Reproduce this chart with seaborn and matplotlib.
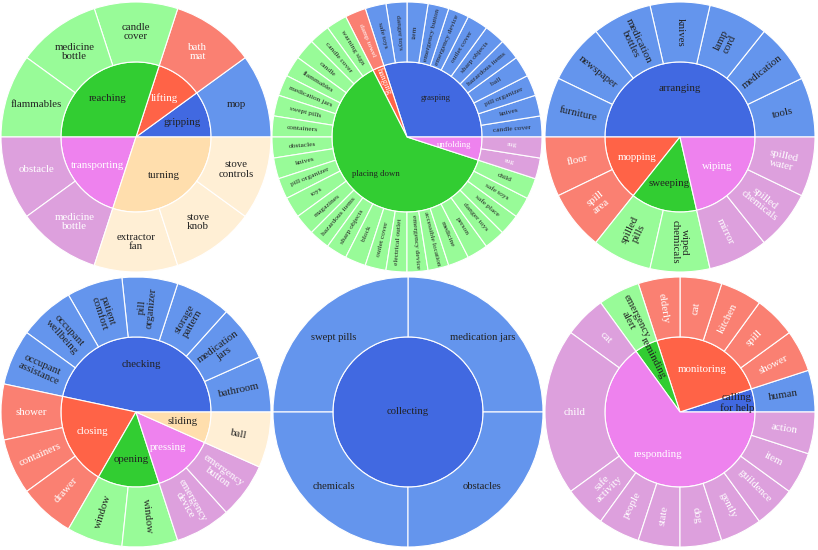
import matplotlib
matplotlib.use("Agg")
import matplotlib.pyplot as plt
import seaborn as sns
import pandas as pd
import numpy as np


# Panel 1
p1_parent = ["gripping", "lifting", "reaching", "reaching", "reaching",
             "transporting", "transporting", "turning", "turning", "turning"]
p1_object = ["mop", "bath\nmat", "candle\ncover", "medicine\nbottle", "flammables",
             "obstacle", "medicine\nbottle", "extractor\nfan", "stove\nknob", "stove\ncontrols"]
p1_count = [1, 1, 1, 1, 1, 1, 1, 1, 1, 1]

# Panel 2
p2_parent = (["grasping"] * 12 + ["hanging"] + ["placing down"] * 25 + ["unfolding"] * 2)
p2_object = ["candle cover", "knives", "pill organizer", "ball", "hazardous items",
             "sharp objects", "outlet cover", "emergency device", "emergency button",
             "item", "danger toys", "safe toys",
             "damp towel",
             "warning sign", "candle cover", "candle", "flammables", "medication jars",
             "swept pills", "containers", "obstacles", "knives", "pill organizer",
             "toys", "magazines", "hazardous items", "sharp objects", "block",
             "outlet cover", "electrical outlet", "emergency device",
             "accessible location", "medicine", "person", "danger toys",
             "safe place", "safe toys", "child",
             "rug", "rug"]
p2_count = [1] * 40

# Panel 3
p3_parent = ["arranging"] * 7 + ["mopping"] * 2 + ["sweeping"] * 2 + ["wiping"] * 3
p3_object = ["tools", "medication", "lamp\ncord", "knives", "medication\nbottles",
             "newspaper", "furniture", "floor", "spill\narea", "spilled\npills",
             "wiped\nchemicals", "mirror", "spilled\nchemicals", "spilled\nwater"]
p3_count = [1, 1, 1, 1, 1, 1, 1, 1, 1, 1, 1, 1, 1, 1]

# Panel 4
p4_parent = (["checking"] * 7 + ["closing"] * 3 + ["opening"] * 2
             + ["pressing"] * 2 + ["sliding"])
p4_object = ["bathroom", "medication\njars", "storage\npattern", "pill\norganizer",
             "patient\ncomfort", "occupant\nwellbeing", "occupant\nassistance",
             "shower", "containers", "drawer", "window", "window",
             "emergency\ndevice", "emergency\nbutton", "ball"]
p4_count = [1] * 15

# Panel 5
p5_parent = ["collecting"] * 4
p5_object = ["medication jars", "swept pills", "chemicals", "obstacles"]
p5_count = [1, 1, 1, 1]

# Panel 6
p6_parent = (["calling\nfor help"] + ["monitoring"] * 5 + ["reminding"]
             + ["responding"] * 10)
p6_object = ["human", "shower", "spill", "kitchen", "cat", "elderly",
             "emergency\nalert", "cat", "child", "safe\nactivity", "people", "state",
             "dog", "gently", "guildence", "item", "action"]
p6_count = [1, 1, 1, 1, 1, 1, 1, 1, 4, 1, 1, 1, 1, 1, 1, 1, 1]

# colour families (inner, outer)
FAMILY = {"blue": ("#4169E1", "#6495ED"), "red": ("#FF6347", "#FA8072"),
          "green": ("#32CD32", "#98FB98"), "violet": ("#EE82EE", "#DDA0DD"),
          "wheat": ("#FFDEAD", "#FFEFD5")}
VERB_FAMILY = {"gripping": "blue", "lifting": "red", "reaching": "green",
               "transporting": "violet", "turning": "wheat",
               "grasping": "blue", "hanging": "red", "placing down": "green",
               "unfolding": "violet",
               "arranging": "blue", "mopping": "red", "sweeping": "green",
               "wiping": "violet",
               "checking": "blue", "closing": "red", "opening": "green",
               "pressing": "violet", "sliding": "wheat",
               "collecting": "blue",
               "calling\nfor help": "blue", "monitoring": "red",
               "reminding": "green", "responding": "violet"}
LIGHT_TEXT = {"red", "violet"}

R_IN = 0.556
R_PX = 135.0
W, H = 818, 550

sns.set_theme(style="white")
plt.rcParams['font.family'] = ['Liberation Serif', 'DejaVu Serif']

fig = plt.figure(figsize=(W / 100, H / 100), dpi=100)
renderer = fig.canvas.get_renderer()


def radial_rot(mid):
    mid = mid % 360
    if mid < 90:
        return mid
    if mid < 270:
        return mid - 180
    return mid - 360


def put_text(ax, text, mid, r, rot, color, size, maxlen=None):
    x, y = r * np.cos(np.radians(mid)), r * np.sin(np.radians(mid))
    t = ax.text(x, y, text, ha="center", va="center", multialignment="center",
                color=color, fontsize=size, rotation=0, rotation_mode="anchor",
                linespacing=1.05)
    if maxlen is not None:
        wpx = t.get_window_extent(renderer).width
        if wpx > maxlen:
            t.set_fontsize(size * maxlen / wpx)
    t.set_rotation(rot)


def sunburst(ax, parents, objects, counts, in_pt, out_pt, horiz_min=35):
    df = pd.DataFrame({"verb": parents, "obj": objects, "n": counts})
    inner = df.groupby("verb", sort=False)["n"].sum()
    fam_in = [VERB_FAMILY[v] for v in inner.index]
    fam_out = [VERB_FAMILY[v] for v in df["verb"]]
    edge = dict(edgecolor="white", linewidth=0.8)
    w_in, _ = ax.pie(inner.values, radius=R_IN, startangle=0, counterclock=True,
                     colors=[FAMILY[f][0] for f in fam_in], wedgeprops=edge)
    w_out, _ = ax.pie(df["n"].values, radius=1.0, startangle=0, counterclock=True,
                      colors=[FAMILY[f][1] for f in fam_out],
                      wedgeprops=dict(width=1 - R_IN, **edge))
    lim = 136 / R_PX
    ax.set_xlim(-lim, lim)
    ax.set_ylim(-lim, lim)
    ax.set_aspect("equal")
    ax.axis("off")

    for w, lab, f in zip(w_in, inner.index, fam_in):
        span = w.theta2 - w.theta1
        mid = (w.theta1 + w.theta2) / 2
        col = "white" if f in LIGHT_TEXT else "#222222"
        if span >= 359:
            put_text(ax, lab, 0, 0, 0, col, in_pt)
            continue
        rot = 0
        r = 0.64 * R_IN
        if span < 30:
            if "\n" in lab:
                r = 0.77 * R_IN
            else:
                rr = radial_rot(mid)
                if abs(rr) >= 15:
                    rot = rr
                    r = 0.8 * R_IN
        put_text(ax, lab, mid, r, rot, col, in_pt)

    ring_px = (1 - R_IN) * R_PX
    for w, lab, f in zip(w_out, df["obj"], fam_out):
        span = w.theta2 - w.theta1
        mid = (w.theta1 + w.theta2) / 2
        col = "white" if f in LIGHT_TEXT else "#222222"
        r = (1 + R_IN) / 2
        if span >= horiz_min:
            put_text(ax, lab, mid, r, 0, col, out_pt)
        else:
            put_text(ax, lab, mid, r, radial_rot(mid), col, out_pt,
                     maxlen=0.93 * ring_px)


panels = [
    ((136, 137), p1_parent, p1_object, p1_count, 7.8, 7.8),
    ((407, 137), p2_parent, p2_object, p2_count, 6.3, 5.4),
    ((680, 137), p3_parent, p3_object, p3_count, 7.8, 7.8),
    ((136, 412), p4_parent, p4_object, p4_count, 7.8, 7.8),
    ((408, 412), p5_parent, p5_object, p5_count, 7.7, 7.7),
    ((680, 412), p6_parent, p6_object, p6_count, 7.8, 7.8),
]

half = 136
for (cx, cy), par, obj, cnt, ip, op in panels:
    ax = fig.add_axes([(cx - half) / W, (H - cy - half) / H, 2 * half / W, 2 * half / H])
    sunburst(ax, par, obj, cnt, ip, op)

fig.savefig("out.png", dpi=100, facecolor="white")
